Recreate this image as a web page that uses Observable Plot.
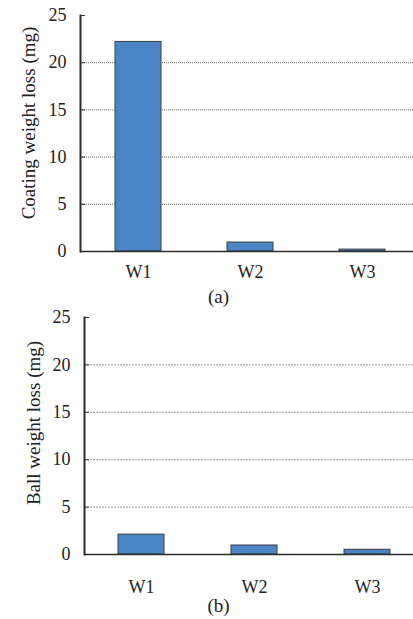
<!DOCTYPE html>
<html><head><meta charset="utf-8">
<script src="https://cdn.jsdelivr.net/npm/d3@7"></script>
<script src="https://cdn.jsdelivr.net/npm/@observablehq/plot@0.6"></script>
<style>
html,body{margin:0;padding:0;background:#fff;}
#chart svg{display:block;}
</style></head><body><div id="chart"></div>
<script>
const categories = ["W1", "W2", "W3"];
const coatingLoss = [22.2, 0.95, 0.2];
const ballLoss = [2.1, 0.95, 0.5];
const yTicks = [0, 5, 10, 15, 20, 25];
const gridTicks = [5, 10, 15, 20];
const panelLabels = ["(a)", "(b)"];
const yTitles = ["Coating weight loss (mg)", "Ball weight loss (mg)"];

function panel(values, o) {
  const data = categories.map((c, i) => ({cat: c, v: values[i]}));
  return Plot.plot({
    width: 413, height: o.height,
    marginLeft: o.ml, marginRight: 0, marginTop: o.mt, marginBottom: o.mb,
    style: {fontFamily: "'Liberation Serif', 'Times New Roman', serif", fontSize: "18px", color: "#222", background: "#fff", overflow: "visible"},
    x: {domain: categories, paddingInner: 0.593, paddingOuter: o.po, align: o.align, label: null},
    y: {domain: [0, 25], label: null},
    marks: [
      Plot.gridY(gridTicks, {stroke: o.gridStroke, strokeOpacity: 1, strokeDasharray: o.dash}),
      Plot.axisY(yTicks, {tickSize: -5, fill: "none", stroke: "#333", label: null}),
      Plot.axisY(yTicks, {tickSize: 0, tickPadding: o.tp, fontSize: 18, fill: "#222", label: null}),
      Plot.barY(data, {x: "cat", y: "v", fill: "#4a86c6", stroke: "#3c3c3c", strokeWidth: 1}),
      Plot.ruleY([0], {stroke: "#2b2b2b", strokeWidth: 1.6}),
      Plot.frame({anchor: "left", stroke: "#2b2b2b", strokeWidth: 2}),
      Plot.axisX({tickSize: 0, tickPadding: o.xp, fontSize: 18, fill: "#222", label: null}),
      Plot.text([o.title], {frameAnchor: "left", rotate: -90, textAnchor: "middle", lineAnchor: "middle", dx: o.tdx, dy: o.tdy, fontSize: 19, fill: "#222"}),
      Plot.text([o.caption], {frameAnchor: "bottom", textAnchor: "middle", lineAnchor: "middle", dx: o.cdx, dy: o.cdy, fontSize: 19, fill: "#222"})
    ]
  });
}

const root = document.getElementById("chart");
root.append(panel(coatingLoss, {
  height: 305, ml: 80, mt: 15, mb: 54, po: 0.27, align: 0.557, tp: 14, xp: 14,
  gridStroke: "#666", dash: "1,1",
  title: yTitles[0], tdx: -52, tdy: -10.5,
  caption: panelLabels[0], cdx: -28.5, cdy: 45
}));
root.append(panel(ballLoss, {
  height: 314, ml: 84, mt: 12, mb: 65, po: 0.252, align: 0.596, tp: 14, xp: 26,
  gridStroke: "#999", dash: "2,1",
  title: yTitles[1], tdx: -51, tdy: -13,
  caption: panelLabels[1], cdx: -30.5, cdy: 51
}));
</script></body></html>
